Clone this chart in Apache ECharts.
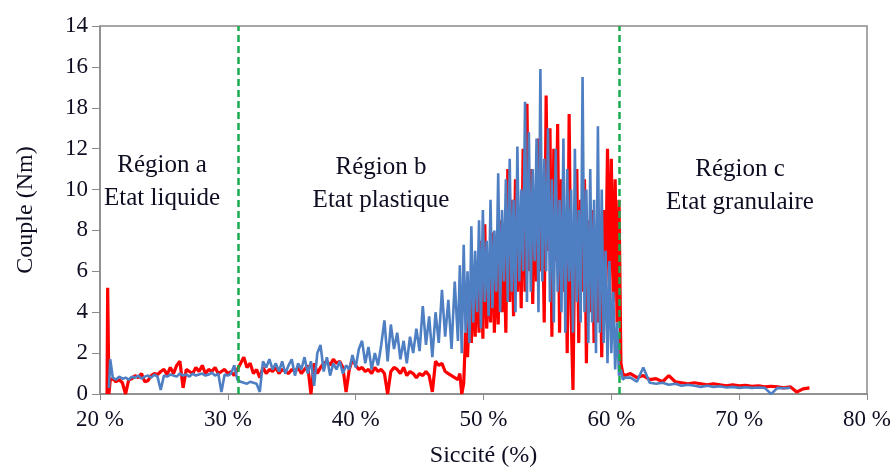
<!DOCTYPE html>
<html>
<head>
<meta charset="utf-8">
<script src="https://cdn.jsdelivr.net/npm/echarts@6/dist/echarts.min.js"></script>
<style>
  html, body { margin: 0; padding: 0; background: #fff; }
  #chart { width: 895px; height: 473px; }
</style>
</head>
<body>
<div id="chart"></div>
<script>
// Siccité (%) sample positions
const siccite = [
  20.55, 20.6, 20.65, 20.7, 20.8,
  21, 21.25, 21.5, 21.75, 22, 22.25, 22.5, 22.75, 23, 23.25, 23.5, 23.75,
  24, 24.25, 24.5, 24.75, 25, 25.25, 25.5, 25.75, 26, 26.25, 26.5, 26.75,
  27, 27.25, 27.5, 27.75, 28, 28.25, 28.5, 28.75, 29, 29.25, 29.5, 29.75,
  30, 30.25, 30.5, 30.75, 31, 31.25, 31.5, 31.75, 32, 32.25, 32.5, 32.75,
  33, 33.25, 33.5, 33.75, 34, 34.25, 34.5, 34.75, 35, 35.25, 35.5, 35.75,
  36, 36.25, 36.5, 36.75, 37, 37.25, 37.5, 37.75, 38, 38.25, 38.5, 38.75,
  39, 39.25, 39.5, 39.75, 40, 40.25, 40.5, 40.75, 41, 41.25, 41.5, 41.75,
  42, 42.25, 42.5, 42.75, 43, 43.25, 43.5, 43.75, 44, 44.25, 44.5, 44.75,
  45, 45.25, 45.5, 45.75, 46, 46.25, 46.5, 46.75, 47, 47.25, 47.5, 47.75, 48,
  48.15, 48.3, 48.45, 48.6, 48.75, 48.9, 49.05, 49.2, 49.35, 49.5,
  49.65, 49.8, 49.95, 50.1, 50.25, 50.4, 50.55, 50.7, 50.85, 51,
  51.15, 51.3, 51.45, 51.6, 51.75, 51.9, 52.05, 52.2, 52.35, 52.5,
  52.65, 52.8, 52.95, 53.1, 53.25, 53.4, 53.55, 53.7, 53.85, 54,
  54.15, 54.3, 54.45, 54.6, 54.75, 54.9, 55.05, 55.2, 55.35, 55.5,
  55.65, 55.8, 55.95, 56.1, 56.25, 56.4, 56.55, 56.7, 56.85, 57,
  57.15, 57.3, 57.45, 57.6, 57.75, 57.9, 58.05, 58.2, 58.35, 58.5,
  58.65, 58.8, 58.95, 59.1, 59.25, 59.4, 59.55, 59.7, 59.85, 60,
  60.15, 60.3, 60.45, 60.6, 60.75, 60.9, 61.05,
  61.5, 62, 62.5, 63, 63.5, 64, 64.5, 65, 65.5, 66, 66.5, 67, 67.5, 68,
  68.5, 69, 69.5, 70, 70.5, 71, 71.5, 72, 72.5, 73, 73.5, 74, 74.5, 75, 75.5
];

// Couple (Nm) – red series
const coupleRed = [
  0, 5.2, 5.2, 0, 0.7,
  0.75, 0.6, 0.7, 0.55, 0.0, 0.7, 0.75, 0.9, 0.8, 1.0, 0.6, 0.65,
  0.9, 1.0, 0.95, 1.1, 1.2, 0.95, 1.3, 1.0, 1.4, 1.6, 0.3, 1.2,
  1.1, 1.0, 1.3, 1.1, 1.4, 1.0, 1.2, 1.1, 1.3, 1.0, 1.1, 1.2,
  1.0, 1.1, 0.9, 1.2, 1.5, 1.8, 1.3, 1.5, 1.0, 1.2, 0.8, 1.3,
  1.0, 1.2, 1.1, 1.3, 1.0, 1.2, 1.1, 1.0, 1.2, 1.1, 1.3, 1.0,
  1.2, 1.4, 0.0, 1.5, 1.0, 1.3, 1.5, 1.6, 1.4, 1.7, 1.5, 1.6,
  1.3, 0.1, 1.2, 1.7, 1.4, 1.2, 1.3, 1.1, 1.2, 1.0, 1.3, 1.1,
  1.2, 1.0, 0.0, 1.1, 1.3, 1.2, 1.0, 1.3, 0.9, 1.1, 1.0, 0.8,
  1.0, 0.9, 1.1, 0.9, 0.1, 1.6, 1.4, 1.5, 1.1, 1.0, 0.9, 0.8, 0.7,
  1.0, 0.0, 0.5, 3.0, 1.8, 4.2, 2.5, 5.5, 2.8, 6.5,
  3.0, 7.5, 2.7, 8.3, 3.2, 6.0, 3.5, 7.9, 3.0, 6.8,
  3.4, 8.5, 4.0, 7.0, 3.0, 11.0, 4.5, 9.5, 3.8, 10.5,
  5.0, 9.0, 4.2, 12.0, 5.0, 14.2, 6.0, 11.0, 4.4, 10.0,
  5.5, 12.5, 6.0, 9.5, 3.5, 14.6, 7.0, 13.0, 2.8, 12.0,
  6.5, 13.2, 3.0, 10.5, 5.0, 9.0, 2.0, 13.7, 4.0, 0.2,
  8.0, 11.0, 2.5, 9.5, 5.0, 10.5, 1.5, 8.5, 4.0, 9.0,
  2.5, 8.0, 3.5, 7.5, 1.8, 9.0, 5.0, 12.0, 5.5, 11.5,
  4.5, 10.5, 3.5, 9.5, 1.5, 1.0, 0.9,
  1.0, 0.8, 0.9, 0.7, 0.75, 0.6, 0.9, 0.6, 0.55, 0.5, 0.55, 0.5, 0.45, 0.5,
  0.45, 0.4, 0.45, 0.4, 0.42, 0.38, 0.4, 0.35, 0.38, 0.35, 0.3, 0.35, 0.1, 0.25, 0.3
];

// Couple (Nm) – blue series
const coupleBlue = [
  null, null, null, 0.3, 1.7,
  0.8, 0.7, 0.85, 0.75, 0.8, 0.7, 0.85, 0.8, 0.9, 0.75, 0.85, 0.9,
  0.8, 0.95, 0.85, 0.2, 0.9, 0.85, 0.95, 0.9, 0.85, 1.0, 0.9, 0.95,
  0.85, 1.0, 0.9, 0.95, 1.0, 0.9, 0.95, 1.05, 0.9, 1.0, 0.1, 0.95,
  0.9, 1.0, 1.4, 0.7, 0.6, 0.55, 0.5, 0.6, 0.55, 0.5, 0.1, 1.6,
  1.3, 1.7, 1.2, 1.5, 1.1, 1.6, 1.0, 1.4, 1.7, 0.9, 1.5, 1.2,
  1.8, 1.0, 1.6, 0.4, 2.0, 2.4, 1.1, 1.8, 0.9, 1.5, 1.2, 1.6,
  1.0, 1.4, 1.2, 1.9, 1.3, 2.2, 2.6, 1.5, 2.3, 1.2, 2.0, 1.4,
  2.4, 3.6, 1.6, 3.4, 2.2, 3.0, 1.7, 2.6, 1.5, 2.8, 2.0, 3.2,
  2.1, 4.3, 2.4, 3.8, 1.8, 4.0, 2.5, 5.1, 2.8, 4.6, 2.2, 5.5, 2.6,
  6.3, 2.0, 7.3, 3.0, 6.0, 2.5, 8.2, 3.5, 7.0, 4.0,
  8.5, 3.2, 9.0, 4.5, 7.5, 3.8, 9.5, 4.2, 8.0, 5.0,
  10.8, 4.0, 9.0, 5.5, 10.5, 4.5, 11.5, 5.0, 9.5, 4.0,
  12.1, 5.5, 10.0, 6.0, 14.3, 4.5, 12.8, 5.0, 11.0, 6.5,
  12.5, 4.0, 15.9, 5.5, 11.5, 6.0, 13.0, 4.5, 10.5, 3.5,
  12.0, 5.0, 9.5, 4.0, 12.5, 3.0, 11.0, 5.5, 10.0, 3.0,
  12.0, 4.5, 9.0, 3.5, 15.5, 4.0, 10.0, 2.5, 11.0, 3.5,
  9.5, 2.0, 13.1, 3.0, 10.0, 2.5, 7.0, 1.5, 6.5, 2.0,
  5.0, 1.2, 3.5, 0.9, 1.2, 0.7, 0.8,
  0.8, 0.6, 1.3, 0.55, 0.5, 0.55, 0.45, 0.5, 0.4, 0.45, 0.4, 0.35, 0.4, 0.35,
  0.38, 0.32, 0.35, 0.3, 0.33, 0.3, 0.32, 0.3, 0.0, 0.3, 0.28, 0.3, null, null, null
];

// Region boundaries (Siccité %)
const regionBounds = [30.8, 60.6];
const regionTitles = ['Région a', 'Région b', 'Région c'];
const regionStates = ['Etat liquide', 'Etat plastique', 'Etat granulaire'];

// Tick labels as printed on the original figure
const xTickLabels = ['20 %', '30 %', '40 %', '50 %', '60 %', '70 %', '80 %'];
const yTickLabels = ['0', '2', '4', '6', '8', '10', '12', '18', '16', '14'];

const FONT = "'Liberation Serif', 'Times New Roman', serif";
const chart = echarts.init(document.getElementById('chart'));

const redData = siccite.map((x, i) => [x, coupleRed[i]]);
const blueData = siccite.map((x, i) => [x, coupleBlue[i]]);

const textPos = [[162, 182], [381, 184], [740, 186]];
const graphics = regionTitles.map((t, i) => ({
  type: 'text', x: textPos[i][0], y: textPos[i][1],
  style: { text: t + '\n' + regionStates[i], font: '25px ' + FONT, fill: '#0e0e22',
           textAlign: 'center', textVerticalAlign: 'middle', lineHeight: 33 }
}));

chart.setOption({
  animation: false,
  backgroundColor: '#ffffff',
  grid: { left: 100, right: 28, top: 26, bottom: 75, show: true,
          borderColor: '#8a8a8a', borderWidth: 1.5, backgroundColor: 'transparent' },
  xAxis: {
    type: 'value', min: 20, max: 80, interval: 10,
    name: 'Siccité (%)', nameLocation: 'middle', nameGap: 50,
    nameTextStyle: { fontFamily: FONT, fontSize: 24, color: '#0e0e22' },
    axisLine: { lineStyle: { color: '#8a8a8a', width: 1.5 } },
    axisTick: { show: true, length: 6, lineStyle: { color: '#8a8a8a' } },
    splitLine: { show: false },
    axisLabel: { fontFamily: FONT, fontSize: 23, color: '#0e0e22', margin: 14,
                 formatter: (v) => xTickLabels[Math.round((v - 20) / 10)] }
  },
  yAxis: {
    type: 'value', min: 0, max: 18, interval: 2,
    name: 'Couple (Nm)', nameLocation: 'middle', nameGap: 62,
    nameTextStyle: { fontFamily: FONT, fontSize: 24, color: '#0e0e22' },
    axisLine: { show: true, lineStyle: { color: '#8a8a8a', width: 1.5 } },
    axisTick: { show: true, length: 8, lineStyle: { color: '#8a8a8a' } },
    splitLine: { show: false },
    axisLabel: { fontFamily: FONT, fontSize: 23, color: '#0e0e22', margin: 12,
                 formatter: (v) => yTickLabels[Math.round(v / 2)] }
  },
  graphic: graphics,
  series: [
    { type: 'line', data: redData, showSymbol: false, symbol: 'none',
      connectNulls: false, z: 2,
      lineStyle: { color: '#ff0000', width: 3.2 } },
    { type: 'line', data: blueData, showSymbol: false, symbol: 'none',
      connectNulls: false, z: 3,
      lineStyle: { color: '#4f7fc3', width: 2.6 } },
    { type: 'line', data: [], z: 4,
      markLine: { silent: true, symbol: 'none', label: { show: false },
        lineStyle: { color: '#1aaa4f', type: [7, 4], width: 2.5 },
        data: regionBounds.map(v => ({ xAxis: v })) } }
  ]
});
</script>
</body>
</html>
